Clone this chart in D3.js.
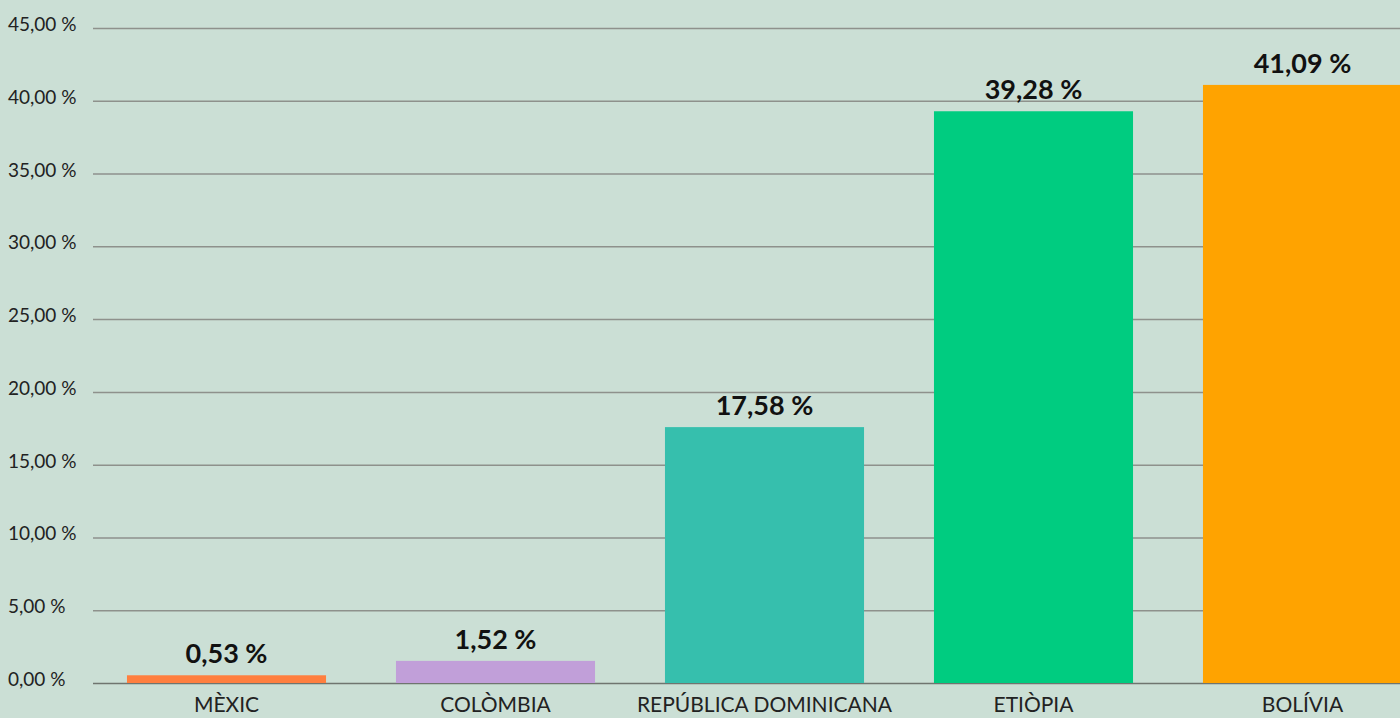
<!DOCTYPE html>
<html>
<head>
<meta charset="utf-8">
<script src="https://cdn.jsdelivr.net/npm/d3@7"></script>
<style>
  html, body { margin: 0; padding: 0; background: #cbdfd5; overflow: hidden; }
  svg { display: block; font-family: Lato, "Open Sans", sans-serif; }
</style>
</head>
<body>
<div id="chart"></div>
<script>
const countries = ["MÈXIC", "COLÒMBIA", "REPÚBLICA DOMINICANA", "ETIÒPIA", "BOLÍVIA"];
const shares = [0.53, 1.52, 17.58, 39.28, 41.09];
const barColors = ["#ff7f3f", "#c19fd9", "#36bfad", "#00cc80", "#ffa300"];
const yTicks = [0, 5, 10, 15, 20, 25, 30, 35, 40, 45];

const width = 1400, height = 718;
const margin = { top: 28, left: 93, bottom: 35 };

const fmt = v => v.toFixed(2).replace(".", ",") + " %";

const svg = d3.select("#chart").append("svg")
    .attr("width", width)
    .attr("height", height);

// plot runs past the right edge, like the original crop
const x = d3.scaleBand()
    .domain(countries)
    .range([92, 1437])
    .paddingInner(0.26)
    .paddingOuter(0.13);

const y = d3.scaleLinear()
    .domain([0, 45])
    .range([height - margin.bottom, margin.top]);

// gridlines
svg.append("g")
    .selectAll("line")
    .data(yTicks)
    .join("line")
    .attr("x1", margin.left)
    .attr("x2", width)
    .attr("y1", d => y(d) + 0.5)
    .attr("y2", d => y(d) + 0.5)
    .attr("stroke", d => d === 0 ? "#6f756f" : "#8e918c")
    .attr("stroke-width", 1.5);

// y tick labels (left aligned)
svg.append("g")
    .selectAll("text")
    .data(yTicks)
    .join("text")
    .attr("x", 8)
    .attr("y", d => y(d) + 3)
    .attr("font-size", 19)
    .attr("fill", "#222")
    .text(d => fmt(d));

// bars
svg.append("g")
    .selectAll("rect")
    .data(shares)
    .join("rect")
    .attr("x", (d, i) => x(countries[i]))
    .attr("width", x.bandwidth())
    .attr("y", d => y(d))
    .attr("height", d => y(0) - y(d))
    .attr("fill", (d, i) => barColors[i]);

// value labels
svg.append("g")
    .selectAll("text")
    .data(shares)
    .join("text")
    .attr("x", (d, i) => x(countries[i]) + x.bandwidth() / 2)
    .attr("y", d => y(d) - 12)
    .attr("text-anchor", "middle")
    .attr("font-size", 27)
    .attr("font-weight", "bold")
    .attr("fill", "#111")
    .text(d => fmt(d));

// category labels
svg.append("g")
    .selectAll("text")
    .data(countries)
    .join("text")
    .attr("x", d => x(d) + x.bandwidth() / 2)
    .attr("y", 712)
    .attr("text-anchor", "middle")
    .attr("font-size", 21)
    .attr("fill", "#222")
    .text(d => d);
</script>
</body>
</html>
